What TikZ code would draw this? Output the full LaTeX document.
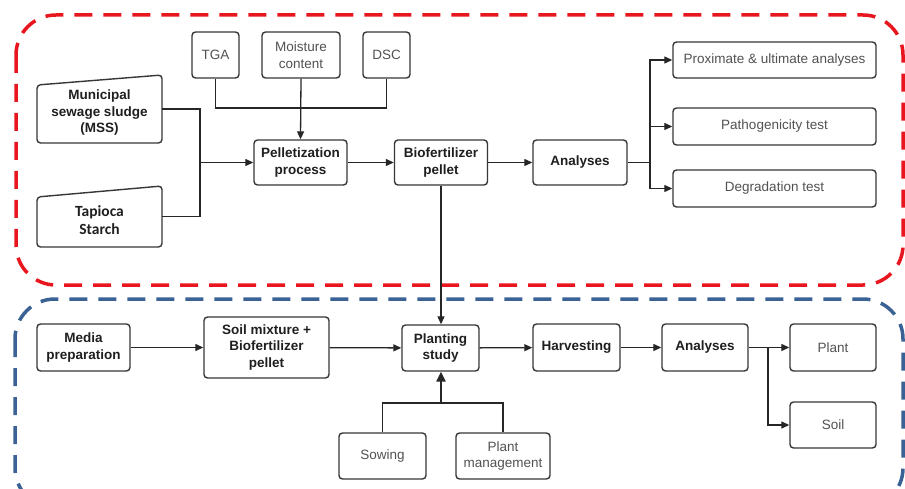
\documentclass[tikz,border=0pt]{standalone}
\usepackage{fontspec}
\setmainfont{Liberation Sans}
\newfontfamily\carl{Carlito}
\usetikzlibrary{arrows.meta,calc}
\definecolor{boxc}{RGB}{55,55,55}
\definecolor{redd}{RGB}{232,22,30}
\definecolor{blued}{RGB}{58,98,148}
\begin{document}
\begin{tikzpicture}[x=1pt,y=-1pt,
  box/.style={draw=boxc, line width=1.4pt, rounded corners=3.5pt, fill=white, align=center, inner sep=0pt,
    font=\fontsize{13.5}{16.5}\selectfont\bfseries, text=black!88},
  lbox/.style={box, font=\fontsize{13.5}{16.5}\selectfont, text=black!68},
  line/.style={line width=1.3pt, draw=black!85},
  conn/.style={line, -{Triangle[length=8pt,width=7pt]}},
  dashbox/.style={line width=3.5pt, dash pattern=on 18pt off 11pt, rounded corners=40pt},
]
\useasboundingbox (0,0) rectangle (905,489);
\begin{scope}
\clip (0,0) rectangle (905,489);
\draw[dashbox, draw=redd] (16,15) rectangle (903,285);
\draw[dashbox, draw=blued] (15,299) rectangle (903,508);
\end{scope}

% top group
\node[lbox, minimum width=47pt, minimum height=46pt] (tga) at (215.5,55) {TGA};
\node[lbox, minimum width=78pt, minimum height=46pt] (moist) at (301,55) {Moisture\\content};
\node[lbox, minimum width=47pt, minimum height=46pt] (dsc) at (386.5,55) {DSC};

\node[minimum width=125pt, minimum height=68pt, inner sep=0pt] (mss) at (99.5,109) {};
\draw[draw=boxc, line width=1.4pt, rounded corners=3.5pt, fill=white] (37,85) -- (162,75) -- (162,143) -- (37,143) -- cycle;
\node[align=center, font=\fontsize{13.5}{16.5}\selectfont\bfseries, text=black!88] (msst) at (99.5,113) {Municipal\\sewage sludge\\(MSS)};

\node[minimum width=125pt, minimum height=61pt, inner sep=0pt] (tap) at (99.5,216.5) {};
\draw[draw=boxc, line width=1.4pt, rounded corners=3.5pt, fill=white] (37,197) -- (162,186) -- (162,247) -- (37,247) -- cycle;
\node[align=center, font=\fontsize{15.5}{18}\selectfont\carl\bfseries, text=black!88] (tapt) at (99.5,220) {Tapioca\\Starch};

\node[box, minimum width=93pt, minimum height=45pt] (pel) at (300.5,162.5) {Pelletization\\process};
\node[box, minimum width=93pt, minimum height=45pt] (bio) at (441,162.5) {Biofertilizer\\pellet};
\node[box, minimum width=94pt, minimum height=45pt] (ana1) at (580,162.5) {Analyses};
\node[lbox, minimum width=203pt, minimum height=36pt] (prox) at (774.5,60) {Proximate \& ultimate analyses};
\node[lbox, minimum width=203pt, minimum height=37pt] (path) at (774.5,126.5) {Pathogenicity test};
\node[lbox, minimum width=203pt, minimum height=37pt] (deg) at (774.5,188.5) {Degradation test};

% bottom group
\node[box, minimum width=93pt, minimum height=47pt] (media) at (83.5,347.5) {Media\\preparation};
\node[box, minimum width=125pt, minimum height=61pt] (soilm) at (266.5,347.5) {Soil mixture +\\Biofertilizer\\pellet};
\node[box, minimum width=77pt, minimum height=46pt] (plst) at (440.5,348) {Planting\\study};
\node[box, minimum width=87pt, minimum height=47pt] (harv) at (576.5,347.5) {Harvesting};
\node[box, minimum width=86pt, minimum height=47pt] (ana2) at (705,347.5) {Analyses};
\node[lbox, minimum width=86pt, minimum height=47pt] (plant) at (833,347.5) {Plant};
\node[lbox, minimum width=86pt, minimum height=46pt] (soilb) at (833,425) {Soil};
\node[lbox, minimum width=87pt, minimum height=46pt] (sow) at (382.5,456) {Sowing};
\node[lbox, minimum width=94pt, minimum height=46pt] (pm) at (503,456) {Plant\\management};

% connectors top
\coordinate (jl) at (200,162.5);
\draw[line] (mss.east) -| (jl);
\draw[line] (tap.east) -| (jl);
\draw[conn] (jl) -- (pel.west);
\coordinate (jt) at (301,108);
\draw[line] (tga.south) |- (jt);
\draw[line] (dsc.south) |- (jt);
\draw[conn] (moist.south) -- (pel.north);
\draw[conn] (pel) -- (bio);
\draw[conn] (bio) -- (ana1);
\coordinate (ja) at (650,162.5);
\draw[line] (ana1.east) -- (ja);
\draw[conn] (ja) |- (prox.west);
\draw[conn] (ja) |- (path.west);
\draw[conn] (ja) |- (deg.west);
\draw[conn] (bio.south) -- (bio.south |- plst.north);

% connectors bottom
\draw[conn] (media) -- (soilm);
\draw[conn] (soilm) -- (plst);
\draw[conn] (plst) -- (harv);
\draw[conn] (harv) -- (ana2);
\draw[conn] (ana2) -- (plant);
\coordinate (jb) at (768,347.5);
\draw[conn] (jb) |- (soilb.west);
\coordinate (js) at (441,403);
\draw[line] (sow.north) |- (pm.north |- js) -- (pm.north);
\draw[line, line width=2.6pt, -{Triangle[length=10pt,width=9pt]}] (js) -- (js |- plst.south);
\end{tikzpicture}
\end{document}
